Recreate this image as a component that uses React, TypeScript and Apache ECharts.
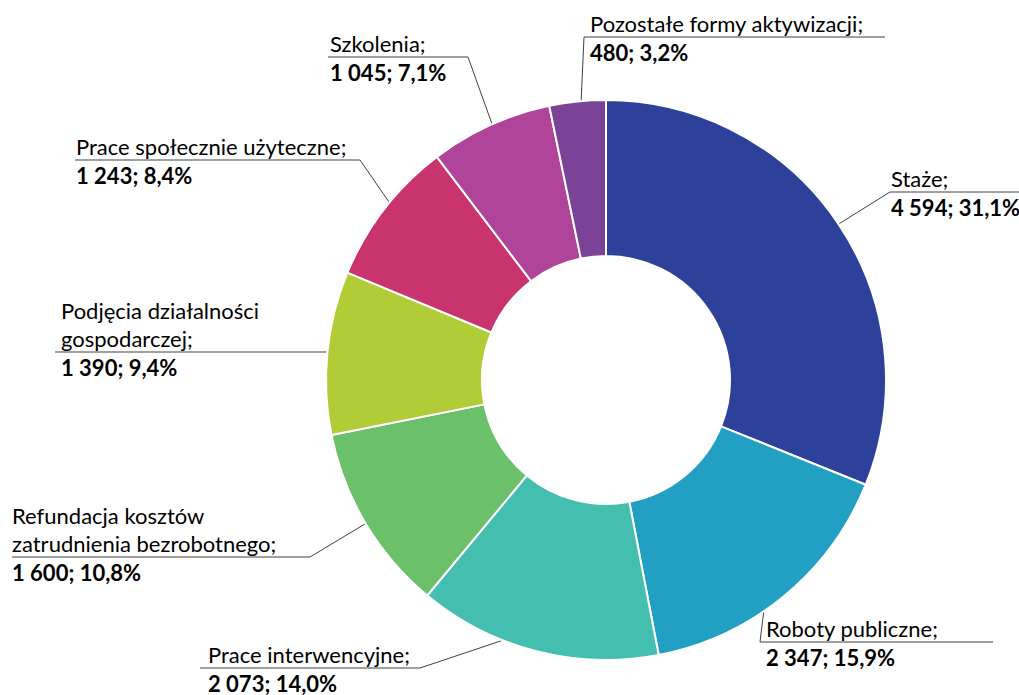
import React, { useEffect, useRef } from 'react';
import * as echarts from 'echarts';

const categories = [
  'Staże',
  'Roboty publiczne',
  'Prace interwencyjne',
  'Refundacja kosztów\nzatrudnienia bezrobotnego',
  'Podjęcia działalności\ngospodarczej',
  'Prace społecznie użyteczne',
  'Szkolenia',
  'Pozostałe formy aktywizacji',
];
const values = [4594, 2347, 2073, 1600, 1390, 1243, 1045, 480];
const colors = ['#2D409A', '#22A0C4', '#44BFAF', '#6CC06A', '#B1CC36', '#C9346F', '#B0449B', '#7B4398'];

// layout constants
const CX = 606;
const CY = 380;
const R_IN = 124;
const R_OUT = 280;
const R_LINE = 255;
const LH = 28;
const FS = 22;
const FONT = 'Lato, "Open Sans", sans-serif';
const labelPos = [
  { x: 891, uy: 192, bx: 890, ex: 1019 },
  { x: 766, uy: 642, bx: 760, ex: 993 },
  { x: 208, uy: 668, bx: 420, ex: 200 },
  { x: 12, uy: 557, bx: 310, ex: 12 },
  { x: 61, uy: 352, bx: 340, ex: 55 },
  { x: 76, uy: 160, bx: 360, ex: 75 },
  { x: 330, uy: 57, bx: 468, ex: 328 },
  { x: 590, uy: 37, bx: 584, ex: 885 },
];

const total = values.reduce((a, b) => a + b, 0);
const fmtNum = (v: number) => String(v).replace(/\B(?=(\d{3})+(?!\d))/g, ' ');
const fmtPct = (v: number) => ((v / total) * 100).toFixed(1).replace('.', ',');

export default function App() {
  const ref = useRef<HTMLDivElement>(null);
  useEffect(() => {
    if (!ref.current) return;
    const chart = echarts.init(ref.current, undefined, { renderer: 'svg' });
    const cum: number[] = [];
    let acc = 0;
    values.forEach((v) => {
      cum.push(acc);
      acc += v;
    });
    chart.setOption({
      animation: false,
      backgroundColor: '#fff',
      series: [
        {
          type: 'pie',
          center: [CX, CY],
          radius: [R_IN, R_OUT],
          startAngle: 90,
          clockwise: true,
          avoidLabelOverlap: false,
          itemStyle: { borderColor: '#fff', borderWidth: 2 },
          emphasis: { disabled: true },
          data: categories.map((c, i) => ({
            name: c,
            value: values[i],
            itemStyle: { color: colors[i] },
          })),
          label: {
            show: true,
            position: 'outside',
            formatter: (p: any) =>
              `{n|${categories[p.dataIndex]};}\n{v|${fmtNum(values[p.dataIndex])}; ${fmtPct(values[p.dataIndex])}%}`,
            rich: {
              n: { fontSize: FS, lineHeight: LH, fontFamily: FONT, color: '#000' },
              v: { fontSize: FS, lineHeight: 30, fontFamily: FONT, fontWeight: 'bold', color: '#000' },
            },
          },
          labelLine: {
            show: true,
            length: 10,
            length2: 10,
            smooth: false,
            lineStyle: { color: '#404040', width: 1 },
          },
          labelLayout: (params: any) => {
            const i = params.dataIndex;
            const p = labelPos[i];
            const n = categories[i].split('\n').length;
            const f = (cum[i] + values[i] / 2) / total;
            const th = f * Math.PI * 2;
            const sx = CX + R_LINE * Math.sin(th);
            const sy = CY - R_LINE * Math.cos(th);
            return {
              x: p.x,
              y: p.uy - n * LH,
              align: 'left',
              verticalAlign: 'top',
              labelLinePoints: [
                [sx, sy],
                [p.bx, p.uy],
                [p.ex, p.uy],
              ],
            };
          },
        },
      ],
    });
    return () => chart.dispose();
  }, []);
  return (
    <div
      ref={ref}
      style={{ position: 'fixed', left: 0, top: 0, width: 1019, height: 695 }}
    />
  );
}
